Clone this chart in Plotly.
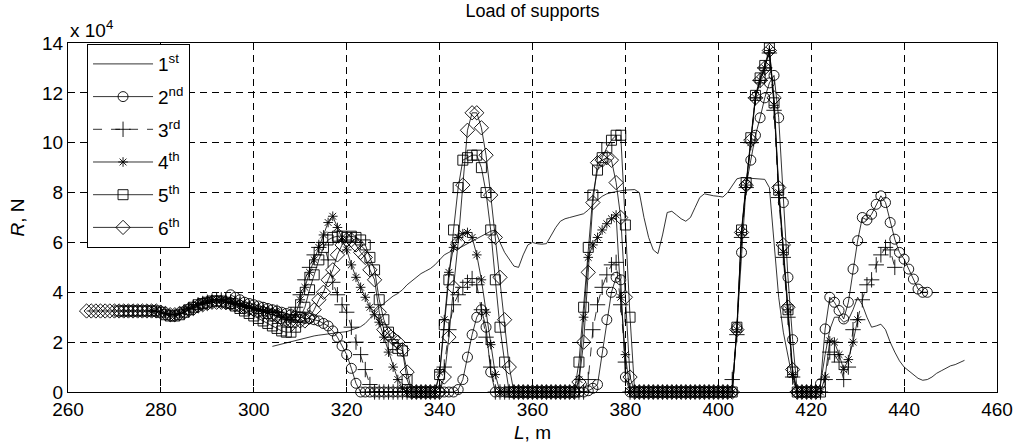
import plotly.graph_objects as go

# Load of supports, R in units of 1e4 N, L in m (1 m step per point)
L1_start, L1_end = 304, 453
R1 = ([1.83, 1.88, 1.93, 1.98, 2.03, 2.08, 2.13, 2.17, 2.21, 2.25, 2.28, 2.31, 2.34, 2.36, 2.38, 2.4, 2.42]
      + [2.48, 2.55, 2.62, 2.75, 2.95, 3.2, 3.4, 3.55, 3.7, 3.85, 3.95, 4.1, 4.3, 4.45, 4.6, 4.75, 4.85, 4.95,
         5.1, 5.3, 5.5, 5.6, 5.7, 5.75, 5.85, 5.95, 6.05, 6.15, 6.25, 6.35, 6.45]
      + [6.5, 6.0, 5.6, 5.3, 5.05, 5.0, 5.5, 5.9, 6.0, 5.95, 5.93, 5.95, 6.3, 6.6, 6.85, 6.95, 7.0, 7.05, 7.1,
         7.15, 7.3, 7.5, 7.7, 7.85, 7.95, 8.0]
      + [8.05, 8.07, 8.1, 8.1, 8.12, 8.0, 7.0, 6.2, 5.7, 5.55, 6.3, 7.2, 7.25, 7.1, 6.95, 6.85, 7.0, 7.4, 7.8,
         7.95, 7.9, 7.87, 7.85, 7.82, 8.0, 8.3, 8.55, 8.6, 8.58, 8.57, 8.55, 8.55, 8.53, 8.2, 6.0, 3.8, 2.4, 1.4, 0.5]
      + [0.0] * 5
      + [0.3, 1.5, 2.5, 3.0, 3.0, 2.8, 2.9, 3.3, 3.8]
      + [3.5, 3.0, 2.6, 2.65, 2.72, 2.5, 2.0, 1.6, 1.25, 1.0, 0.85, 0.7, 0.55, 0.47, 0.5, 0.6, 0.75, 0.85, 0.95,
         1.05, 1.1, 1.2, 1.27])

L2_start, L2_end = 295, 445
R2 = ([3.9, 3.8, 3.7, 3.6, 3.55, 3.5, 3.45, 3.4, 3.35, 3.3, 3.25, 3.2, 3.15, 3.1, 3.05, 3.0, 2.95, 2.95, 2.9,
       2.85, 2.75, 2.65, 2.45, 2.2, 1.85, 1.5, 0.95, 0.35]
      + [0.0] * 21
      + [0.1, 0.5, 1.4, 2.3, 3.0, 3.3, 2.6, 0.8]
      + [0.0] * 20
      + [0.05, 0.15, 0.3, 1.6, 2.9, 4.0, 4.6, 4.5, 0.6]
      + [0.0] * 23
      + [2.6, 5.6, 8.3, 9.3, 10.3, 11.0, 11.8, 12.4, 12.7, 11.0, 7.6, 4.6, 2.1]
      + [0.0] * 5
      + [0.33, 2.53, 3.8, 3.6, 3.27, 2.93, 3.6, 4.93, 6.07, 7.0, 6.9, 7.13, 7.53, 7.87, 7.6, 6.8, 6.13, 5.6,
         5.33, 4.93, 4.53, 4.13, 4.0, 4.0])

L3_start, L3_end = 286, 438
R3 = ([3.3, 3.4, 3.5, 3.55, 3.6, 3.65, 3.7, 3.7, 3.65, 3.6, 3.55, 3.5, 3.45, 3.4, 3.35, 3.3, 3.3, 3.25, 3.2]
      + [3.2, 3.05, 3.0, 3.1, 3.4, 3.9, 4.5, 5.0, 5.5, 5.8, 6.0, 5.3, 4.4, 3.9, 3.5, 3.2, 2.6, 2.0, 1.5, 0.9, 0.3]
      + [0.0] * 15
      + [1.0, 2.5, 3.5, 3.9, 4.2, 4.4, 4.55, 4.3, 3.3, 2.2, 1.0]
      + [0.0] * 20
      + [0.5, 2.5, 3.5, 4.2, 4.7, 5.1, 5.2, 3.5, 1.2]
      + [0.0] * 22
      + [0.5, 2.3, 6.2, 8.2, 10.0, 11.8, 12.5, 13.0, 13.6, 11.3, 7.8, 5.4, 3.0, 0.6]
      + [0.0] * 6
      + [0.5, 1.6, 1.5, 1.2, 0.5, 1.0, 2.5, 2.9, 3.7, 4.3, 4.5, 5.1, 5.5, 5.8, 5.7, 5.0])

L4_start, L4_end = 278, 430
R4 = ([3.25, 3.25, 3.2, 3.15, 3.1, 3.1, 3.15, 3.25, 3.35, 3.45, 3.5, 3.6, 3.65, 3.7, 3.7, 3.7, 3.65, 3.6,
       3.55, 3.5, 3.45, 3.4, 3.35, 3.3, 3.25, 3.2, 3.2]
      + [3.2, 3.0, 2.9, 2.9, 3.1, 3.7, 4.2, 4.8, 5.3, 5.8, 6.3, 6.8, 7.05, 6.6, 6.1, 5.7, 5.1, 4.6, 4.2, 3.8,
         3.4, 3.1, 2.8, 2.2, 1.6, 1.0, 0.5, 0.15]
      + [0.0] * 7
      + [0.8, 2.9, 4.8, 5.8, 6.2, 6.35, 6.4, 6.2, 5.5, 4.5, 3.2, 1.9, 0.7]
      + [0.0] * 17
      + [0.5, 3.0, 5.4, 5.9, 6.2, 6.5, 6.75, 6.95, 7.1, 3.8, 1.5]
      + [0.0] * 23
      + [2.5, 6.4, 8.3, 10.0, 11.8, 12.5, 13.0, 13.7, 11.5, 8.0, 5.6, 3.3, 0.7]
      + [0.0] * 6
      + [0.6, 2.05, 2.0, 1.5, 0.9, 1.3, 2.0, 2.9])

L5_start, L5_end = 271, 422
R5 = ([3.25] * 9
      + [3.2, 3.1, 3.05, 3.05, 3.1, 3.2, 3.3, 3.4, 3.5, 3.55, 3.6, 3.65, 3.65, 3.65, 3.6, 3.55, 3.45, 3.35,
         3.25, 3.15, 3.05, 2.95, 2.85, 2.75, 2.65, 2.55, 2.45]
      + [2.4, 2.4, 2.6, 3.0, 3.4, 4.1, 4.7, 5.3, 5.8, 6.1, 6.2, 6.25, 6.25, 6.2, 6.25, 6.2, 6.1, 5.9, 5.4, 4.9,
         3.7, 2.9, 2.4, 1.9, 1.75, 1.65, 0.5]
      + [0.0] * 6
      + [0.7, 2.7, 4.5, 6.5, 8.2, 9.3, 9.4, 9.5, 9.5, 9.0, 8.0, 6.5, 4.5, 2.6, 1.2]
      + [0.0] * 15
      + [1.2, 3.4, 5.8, 7.9, 8.9, 9.4, 9.8, 10.1, 10.3, 10.3, 6.7, 3.0]
      + [0.0] * 22
      + [2.6, 6.5, 8.4, 10.2, 11.9, 12.6, 13.1, 13.8, 11.6, 8.1, 5.7, 3.3, 0.8]
      + [0.0] * 6)

L6_start, L6_end = 264, 421
R6 = ([3.25] * 16
      + [3.2, 3.15, 3.1, 3.1, 3.15, 3.2, 3.3, 3.35, 3.45, 3.5, 3.55, 3.6, 3.6, 3.6, 3.58, 3.55, 3.5, 3.45, 3.4,
         3.35, 3.3, 3.25, 3.2, 3.15, 3.1, 3.05]
      + [2.95, 2.9, 2.85, 2.85, 2.85]
      + [2.85, 3.0, 3.3, 3.7, 4.0, 4.5, 4.9, 5.5, 5.9, 6.1, 6.1, 5.9, 5.6, 5.4, 4.9, 4.5, 3.2, 2.5, 2.3, 2.15,
         2.0, 1.7, 0.8]
      + [0.0] * 7
      + [0.6, 2.2, 4.2, 6.0, 8.3, 10.5, 11.2, 11.2, 10.6, 9.5, 7.9, 6.2, 4.6, 2.9, 1.0]
      + [0.0] * 14
      + [0.4, 2.0, 4.8, 7.6, 9.2, 9.3, 9.4, 9.3, 8.4, 7.0, 3.8, 0.6]
      + [0.0] * 22
      + [2.5, 6.4, 8.3, 10.1, 11.8, 12.5, 13.0, 13.7, 11.8, 8.2, 5.9, 3.4, 0.9]
      + [0.0] * 5)

names = ["1<sup>st</sup>", "2<sup>nd</sup>", "3<sup>rd</sup>", "4<sup>th</sup>", "5<sup>th</sup>", "6<sup>th</sup>"]
x_ticks = [260, 280, 300, 320, 340, 360, 380, 400, 420, 440, 460]
y_ticks = [0, 2, 4, 6, 8, 10, 12, 14]

series = [
    (L1_start, L1_end, R1, None, "solid", 0),
    (L2_start, L2_end, R2, "circle-open", "solid", 10),
    (L3_start, L3_end, R3, "cross-thin-open", "dash", 11),
    (L4_start, L4_end, R4, "asterisk-open", "solid", 8),
    (L5_start, L5_end, R5, "square-open", "solid", 10),
    (L6_start, L6_end, R6, "diamond-open", "solid", 11),
]

FONT = "Liberation Sans, Arial, Helvetica, sans-serif"
fig = go.Figure()
for i, ((s, e, r, sym, dash, size), nm) in enumerate(zip(series, names)):
    xs = list(range(s, e + 1))
    assert len(xs) == len(r), (nm, len(xs), len(r))
    kw = dict(x=xs, y=r, name=nm, cliponaxis=False, legendgroup=f"g{i}",
              line=dict(color="black", width=0.8, dash=dash))
    if sym is None:
        kw["mode"] = "lines"
    else:
        kw["mode"] = "lines+markers"
        kw["marker"] = dict(symbol=sym, size=size, color="black",
                            line=dict(color="black", width=0.9))
    fig.add_trace(go.Scatter(**kw))

TICKSIZE = 19
axis_common = dict(showline=True, linecolor="black", linewidth=1.2, mirror="allticks",
                   ticks="inside", ticklen=5, tickcolor="black", automargin=False,
                   showgrid=True, gridcolor="black", gridwidth=1, griddash="7px,5px",
                   zeroline=False, tickfont=dict(family=FONT, size=TICKSIZE, color="black"))

fig.update_xaxes(range=[260, 460], tickvals=x_ticks, ticktext=[str(v) for v in x_ticks],
                 title=dict(text="<i>L</i>, m", font=dict(family=FONT, size=TICKSIZE, color="black"), standoff=6),
                 **axis_common)
fig.update_yaxes(range=[0, 14], tickvals=y_ticks, ticktext=[str(v) for v in y_ticks],
                 title=dict(text="<i>R</i>, N", font=dict(family=FONT, size=TICKSIZE, color="black"), standoff=12),
                 **axis_common)

fig.update_layout(
    width=1016, height=444,
    margin=dict(l=68, r=19, t=43, b=52),
    paper_bgcolor="white", plot_bgcolor="white",
    title=dict(text="Load of supports", x=0.5, xref="paper", y=0.975, yanchor="middle",
               font=dict(family=FONT, size=18, color="black")),
    legend=dict(x=0.0205, y=0.997, xanchor="left", yanchor="top",
                bgcolor="white", bordercolor="black", borderwidth=1,
                font=dict(family=FONT, size=19, color="black"),
                tracegroupgap=5, itemwidth=60),
    showlegend=True,
    annotations=[dict(text="x 10<sup>4</sup>", xref="paper", yref="paper", x=0, y=1.0,
                      xanchor="left", yanchor="bottom", showarrow=False,
                      font=dict(family=FONT, size=TICKSIZE, color="black"))],
)

fig.write_html("out.html")
